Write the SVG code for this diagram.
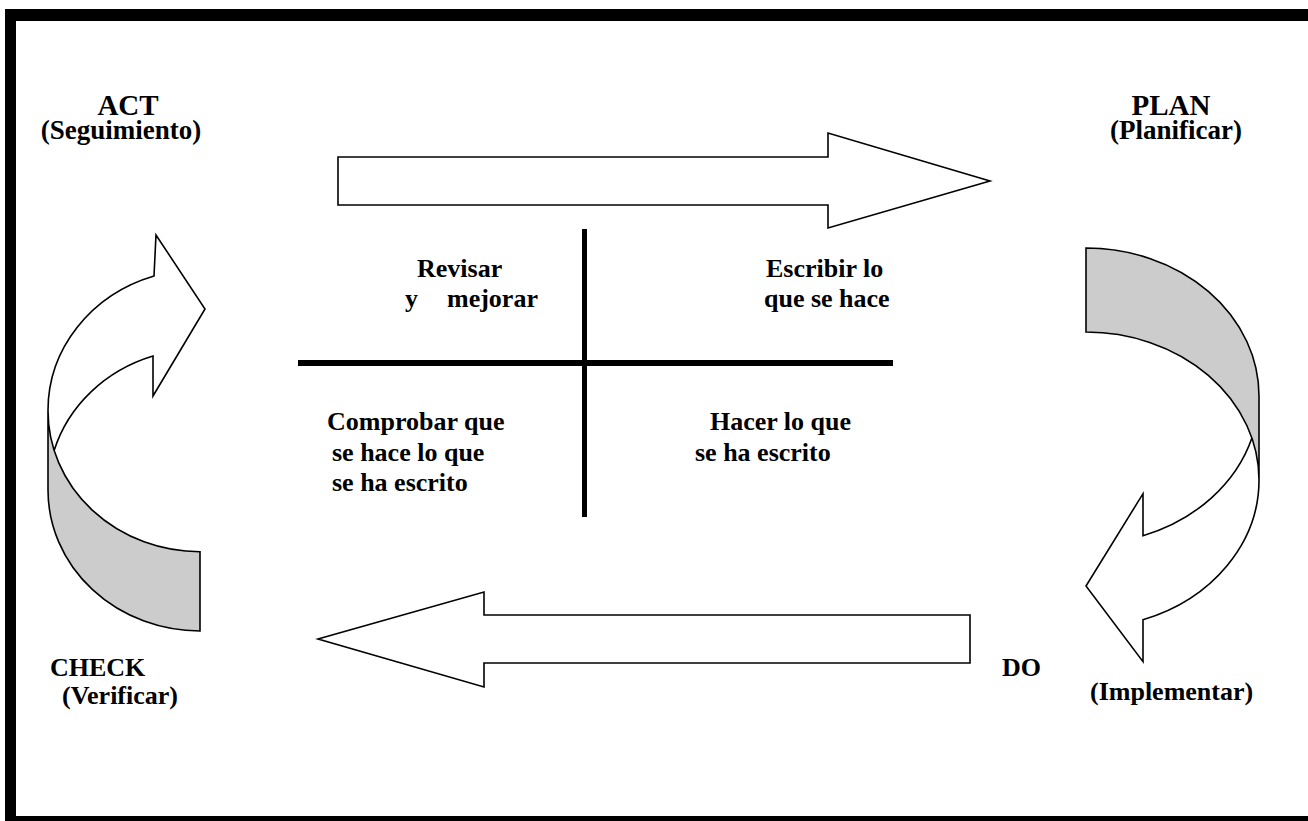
<svg xmlns="http://www.w3.org/2000/svg" width="1308" height="821" viewBox="0 0 1308 821">
<style>
.t{font-family:"Liberation Serif","Times New Roman",serif;font-weight:bold;fill:#000}
.big{font-size:29px}
.sub{font-size:27px}
.lab{font-size:26px}
.sh{stroke:#000;stroke-width:1.6;fill:#fff;stroke-linejoin:miter}
.grey{fill:#cccccc;stroke:none}
.wf{fill:#fff;stroke:none}
.ol{fill:none;stroke:#000;stroke-width:1.6;stroke-linejoin:miter}
</style>
<rect x="0" y="0" width="1308" height="821" fill="#fff"/>
<g id="frame">
<rect x="5" y="9" width="1303" height="12" fill="#000"/>
<rect x="5" y="9" width="11" height="812" fill="#000"/>
<rect x="5" y="816" width="1303" height="5" fill="#000"/>
</g>
<g id="connectors">
<path id="arrow-act-plan" class="sh" d="M338,157 L828,157 L828,133 L990,181 L828,228 L828,205 L338,205 Z"/>
<path id="arrow-do-check" class="sh" d="M970,615 L484,615 L484,592 L318,639 L484,687 L484,663 L970,663 Z"/>
<g id="curve-plan-do">
<path class="grey" d="M1259,480 A173,148 0 0 0 1086,332 L1086,248 A173,148 0 0 1 1259,396 Z"/>
<path class="wf" d="M1259,480 A173,148 0 0 1 1143,619.7 L1143,661.7 L1086,586 L1143,493.7 L1143,535.7 A173,148 0 0 0 1251.9,438 A173,148 0 0 1 1259,480 Z"/>
<path class="ol" d="M1259,480 A173,148 0 0 0 1086,332 L1086,248 A173,148 0 0 1 1259,396 L1259,480 A173,148 0 0 1 1143,619.7 L1143,661.7 L1086,586 L1143,493.7 L1143,535.7 A173,148 0 0 0 1251.9,438"/>
</g>
<g id="curve-check-act">
<path class="grey" d="M48,410.7 A152,141 0 0 0 200,551.7 L200,631 A152,141 0 0 1 48,490 Z"/>
<path class="wf" d="M48,410.7 A152,141 0 0 1 154,276 L156,235 L205,309 L153,396 L153,356 A152,141 0 0 0 54.2,450.3 A152,141 0 0 1 48,410.7 Z"/>
<path class="ol" d="M48,410.7 A152,141 0 0 0 200,551.7 L200,631 A152,141 0 0 1 48,490 L48,410.7 A152,141 0 0 1 154,276 L156,235 L205,309 L153,396 L153,356 A152,141 0 0 0 54.2,450.3"/>
</g>
</g>
<g id="cross">
<rect x="582" y="229" width="5" height="288" fill="#000"/>
<rect x="298" y="360" width="595" height="6" fill="#000"/>
</g>
<g id="node-act">
<text class="t big" x="128" y="115" text-anchor="middle">ACT</text>
<text class="t sub" x="121" y="139" text-anchor="middle">(Seguimiento)</text>
</g>
<g id="node-plan">
<text class="t big" x="1171" y="115" text-anchor="middle">PLAN</text>
<text class="t sub" x="1176" y="139" text-anchor="middle">(Planificar)</text>
</g>
<g id="node-check">
<text class="t lab" x="50" y="676">CHECK</text>
<text class="t lab" x="62" y="704">(Verificar)</text>
</g>
<g id="node-do">
<text class="t lab" x="1002" y="676">DO</text>
<text class="t lab" x="1090" y="700">(Implementar)</text>
</g>
<g id="quad-act">
<text class="t lab" x="417" y="277">Revisar</text>
<text class="t lab" x="405" y="307">y</text>
<text class="t lab" x="447" y="307">mejorar</text>
</g>
<g id="quad-plan">
<text class="t lab" x="766" y="277">Escribir lo</text>
<text class="t lab" x="764" y="307">que se hace</text>
</g>
<g id="quad-check">
<text class="t lab" x="327" y="430">Comprobar que</text>
<text class="t lab" x="332" y="461">se hace lo que</text>
<text class="t lab" x="332" y="491">se ha escrito</text>
</g>
<g id="quad-do">
<text class="t lab" x="710" y="430">Hacer lo que</text>
<text class="t lab" x="695" y="461">se ha escrito</text>
</g>
</svg>
